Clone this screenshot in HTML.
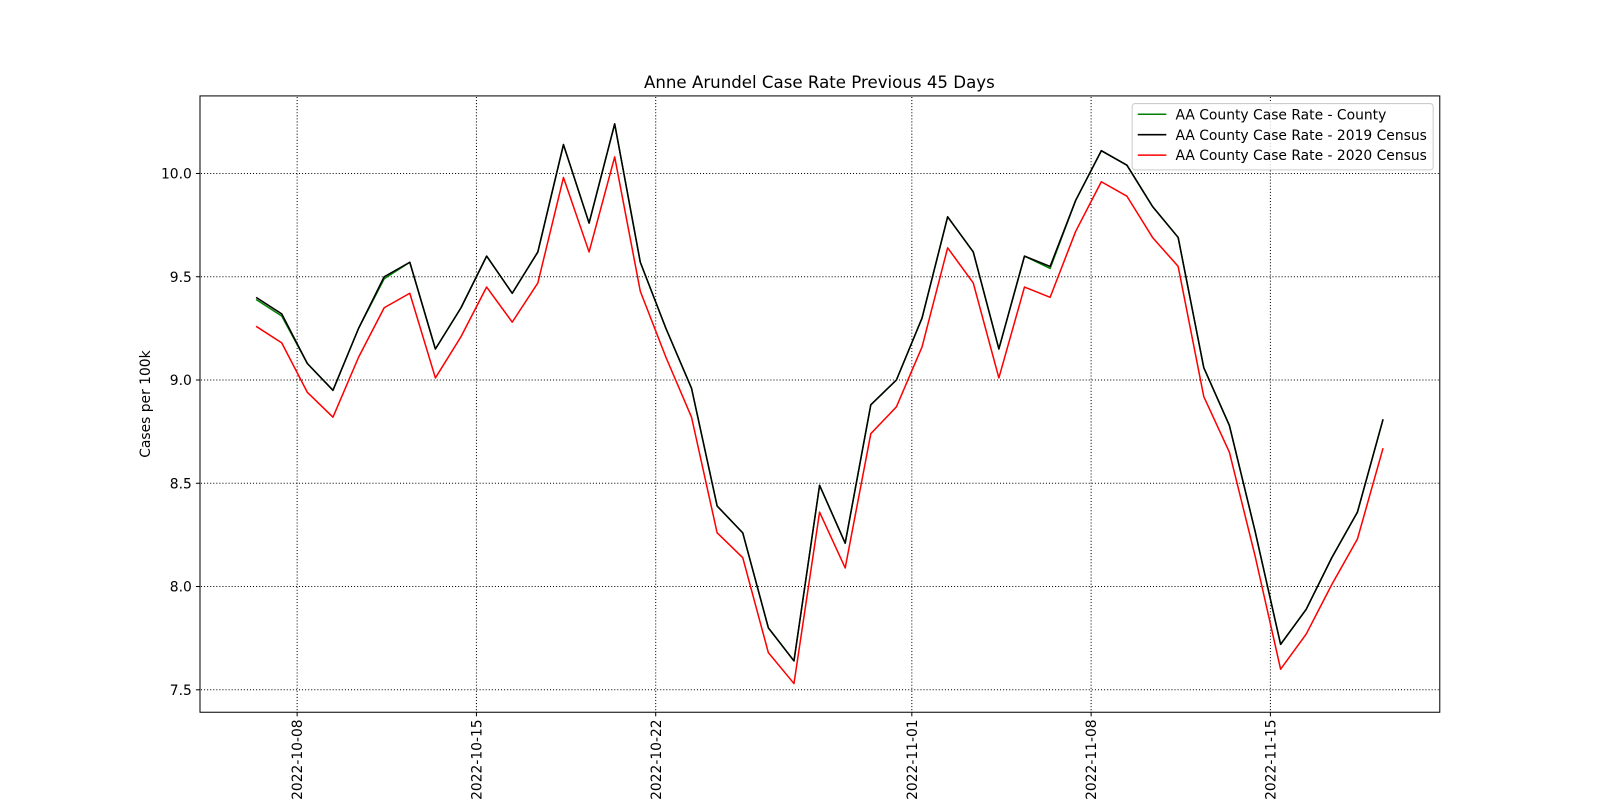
<!DOCTYPE html>
<html><head><meta charset="utf-8"><style>
html,body{margin:0;padding:0;background:#fff;}
svg{display:block;font-family:"DejaVu Sans","Liberation Sans",sans-serif;}
</style></head><body>
<svg id="chart" width="1600" height="800" viewBox="0 0 1600 800">
<rect width="1600" height="800" fill="#fff"/>
<g transform="scale(1.0204)">
<text x="803" y="86" font-size="16.3" text-anchor="middle">Anne Arundel Case Rate Previous 45 Days</text>
<g id="grid"></g>
<g id="series"></g>
<rect x="196" y="94" width="1215" height="604" fill="none" stroke="#000" stroke-width="1"/>
<g id="axes"></g>
<text transform="translate(147,396) rotate(-90)" font-size="13.6" text-anchor="middle">Cases per 100k</text>
<g>
<rect x="1109.5" y="101.5" width="295" height="65" rx="3" fill="#fff" fill-opacity="0.8" stroke="#ccc"/>
<g><line x1="1115" y1="112" x2="1143" y2="112" stroke="green" stroke-width="1.5"/><text x="1152" y="117" font-size="13.6">AA County Case Rate - County</text></g>
<g><line x1="1115" y1="132" x2="1143" y2="132" stroke="#000" stroke-width="1.5"/><text x="1152" y="137" font-size="13.6">AA County Case Rate - 2019 Census</text></g>
<g><line x1="1115" y1="152" x2="1143" y2="152" stroke="red" stroke-width="1.5"/><text x="1152" y="157" font-size="13.6">AA County Case Rate - 2020 Census</text></g>
</g>
</g>
</svg>
<script>
const xTickLabels=["2022-10-08","2022-10-15","2022-10-22","2022-11-01","2022-11-08","2022-11-15"];
const xTickDays=[2,9,16,26,33,40];
const yTicks=[7.5,8.0,8.5,9.0,9.5,10.0];
const census2019=[9.40,9.32,9.08,8.95,9.25,9.50,9.57,9.15,9.35,9.60,9.42,9.62,10.14,9.76,10.24,9.57,9.25,8.96,8.39,8.26,7.80,7.64,8.49,8.21,8.88,9.00,9.30,9.79,9.62,9.15,9.60,9.55,9.87,10.11,10.04,9.84,9.69,9.06,8.78,8.27,7.72,7.89,8.14,8.36,8.81];
const county=[9.39,9.31,9.08,8.95,9.25,9.49,9.57,9.15,9.35,9.60,9.42,9.62,10.14,9.76,10.24,9.57,9.25,8.96,8.39,8.26,7.80,7.64,8.49,8.21,8.88,9.00,9.30,9.79,9.62,9.15,9.60,9.54,9.87,10.11,10.04,9.84,9.69,9.06,8.78,8.27,7.72,7.89,8.14,8.36,8.81];
const census2020=[9.26,9.18,8.94,8.82,9.11,9.35,9.42,9.01,9.21,9.45,9.28,9.47,9.98,9.62,10.08,9.43,9.11,8.82,8.26,8.14,7.68,7.53,8.36,8.09,8.74,8.87,9.16,9.64,9.47,9.01,9.45,9.40,9.72,9.96,9.89,9.69,9.55,8.92,8.65,8.15,7.60,7.77,8.01,8.23,8.67];
const firstDay=0.4;
const NS="http://www.w3.org/2000/svg";
function xs(d){return 241+25.1*d;}
function ys(v){return 170+(10-v)*202.4;}
function mk(t,a,p){const e=document.createElementNS(NS,t);for(const k in a)e.setAttribute(k,a[k]);p.appendChild(e);return e;}
const grid=document.getElementById('grid'),axes=document.getElementById('axes'),ser=document.getElementById('series');
xTickDays.forEach((d,i)=>{const x=xs(d);
 const g=mk('line',{x1:x,y1:95,x2:x,y2:698,stroke:'#000','stroke-width':1,'stroke-dasharray':'1,2'},grid);
 
 
 mk('line',{x1:x,y1:698,x2:x,y2:702,stroke:'#000'},axes);
 const t=mk('text',{transform:`translate(${x+5},705) rotate(-90)`,'font-size':13.6,'text-anchor':'end'},axes);
 t.textContent=xTickLabels[i];
 
 });
yTicks.forEach(v=>{const y=ys(v);
 const g=mk('line',{x1:197,y1:y,x2:1411,y2:y,stroke:'#000','stroke-width':1,'stroke-dasharray':'1,2'},grid);
 
 
 mk('line',{x1:192,y1:y,x2:196,y2:y,stroke:'#000'},axes);
 const t=mk('text',{x:188,y:y+5,'font-size':13.6,'text-anchor':'end'},axes);
 t.textContent=v.toFixed(1);
 
 });
[[county,'green','line-county'],[census2019,'#000','line-2019-census'],[census2020,'red','line-2020-census']].forEach(([arr,c,n])=>{
 const pts=arr.map((v,i)=>xs(firstDay+i).toFixed(1)+','+ys(v).toFixed(1)).join(' ');
 const p=mk('polyline',{points:pts,fill:'none',stroke:c,'stroke-width':1.5,'stroke-linejoin':'round'},ser);
 
 });
</script>
</body></html>
